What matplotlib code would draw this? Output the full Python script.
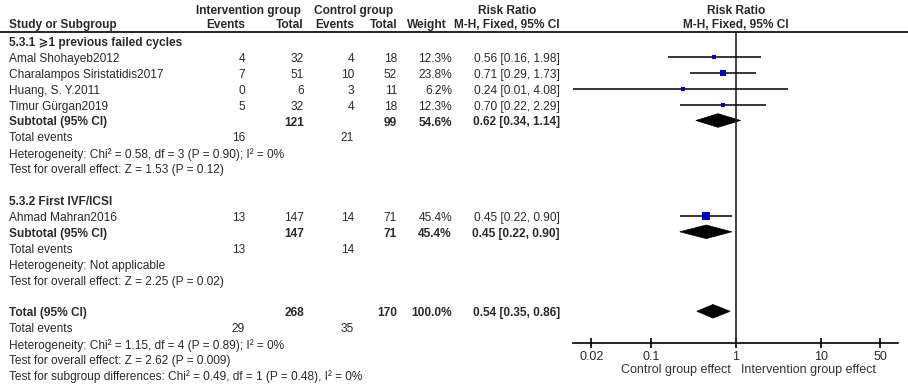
import matplotlib
matplotlib.use("Agg")
import matplotlib.pyplot as plt
from matplotlib.patches import Polygon
import numpy as np

# ---------------- data ----------------
sub1_title = "5.3.1 \u2a7e1 previous failed cycles"
sub2_title = "5.3.2 First IVF/ICSI"

studies1 = ["Amal Shohayeb2012", "Charalampos Siristatidis2017", "Huang, S. Y.2011", "Timur G\u00fcrgan2019"]
int_events1 = [4, 7, 0, 5]
int_total1 = [32, 51, 6, 32]
ctl_events1 = [4, 10, 3, 4]
ctl_total1 = [18, 52, 11, 18]
weight1 = [12.3, 23.8, 6.2, 12.3]
rr1 = [0.56, 0.71, 0.24, 0.70]
lo1 = [0.16, 0.29, 0.01, 0.22]
hi1 = [1.98, 1.73, 4.08, 2.29]
sub1 = dict(int_total=121, ctl_total=99, weight=54.6, rr=0.62, lo=0.34, hi=1.14,
            int_events=16, ctl_events=21)
sub1_het = "Heterogeneity: Chi\u00b2 = 0.58, df = 3 (P = 0.90); I\u00b2 = 0%"
sub1_test = "Test for overall effect: Z = 1.53 (P = 0.12)"

studies2 = ["Ahmad Mahran2016"]
int_events2 = [13]
int_total2 = [147]
ctl_events2 = [14]
ctl_total2 = [71]
weight2 = [45.4]
rr2 = [0.45]
lo2 = [0.22]
hi2 = [0.90]
sub2 = dict(int_total=147, ctl_total=71, weight=45.4, rr=0.45, lo=0.22, hi=0.90,
            int_events=13, ctl_events=14)
sub2_het = "Heterogeneity: Not applicable"
sub2_test = "Test for overall effect: Z = 2.25 (P = 0.02)"

total = dict(int_total=268, ctl_total=170, weight=100.0, rr=0.54, lo=0.35, hi=0.86,
             int_events=29, ctl_events=35)
total_het = "Heterogeneity: Chi\u00b2 = 1.15, df = 4 (P = 0.89); I\u00b2 = 0%"
total_test = "Test for overall effect: Z = 2.62 (P = 0.009)"
subgroup_test = "Test for subgroup differences: Chi\u00b2 = 0.49, df = 1 (P = 0.48), I\u00b2 = 0%"

xticks = [0.02, 0.1, 1, 10, 50]
xtick_labels = ["0.02", "0.1", "1", "10", "50"]
left_label = "Control group effect"
right_label = "Intervention group effect"

# ---------------- layout ----------------
W, H = 908, 384
FONT = ["Liberation Sans", "DejaVu Sans"]
FS = 8.6
TXT = "#2a2a2a"
BLUE = "#0000c8"

row0 = 43.0
dy = 15.9
def ry(k):
    return row0 + dy * k

fig = plt.figure(figsize=(W / 100, H / 100), dpi=100)
tx = fig.add_axes([0, 0, 1, 1])
tx.set_xlim(0, W)
tx.set_ylim(H, 0)
tx.axis("off")

def t(x, y, s, ha="left", bold=False):
    tx.text(x, y, s, ha=ha, va="center", fontsize=FS, family=FONT,
            fontweight="bold" if bold else "normal", color=TXT)

# columns (right edges)
X_LABEL = 9
X_IE, X_IT, X_CE, X_CT, X_W, X_RR = 245, 304, 354, 397, 452, 560

# header
hy1, hy2 = 11, 25
t(248, hy1, "Intervention group", ha="center", bold=True)
t(354, hy1, "Control group", ha="center", bold=True)
t(507, hy1, "Risk Ratio", ha="center", bold=True)
t(X_LABEL, hy2, "Study or Subgroup", bold=True)
t(X_IE, hy2, "Events", ha="right", bold=True)
t(X_IT, hy2, "Total", ha="right", bold=True)
t(X_CE, hy2, "Events", ha="right", bold=True)
t(X_CT, hy2, "Total", ha="right", bold=True)
t(447, hy2, "Weight", ha="right", bold=True)
t(X_RR, hy2, "M-H, Fixed, 95% CI", ha="right", bold=True)
HEADER_LINE = 32
tx.axhline(HEADER_LINE, color="black", lw=1.2)

# forest axes
X1_PIX = 735.7
DEC = 85.0
FX0, FX1 = 573, 898
fax = fig.add_axes([FX0 / W, 0, (FX1 - FX0) / W, 1])
fax.set_xscale("log")
fax.set_xlim(10 ** ((FX0 - X1_PIX) / DEC), 10 ** ((FX1 - X1_PIX) / DEC))
fax.set_ylim(H, 0)
fax.patch.set_visible(False)
for s in ["top", "left", "right"]:
    fax.spines[s].set_visible(False)
AXIS_Y = 343
fax.spines["bottom"].set_position(("data", AXIS_Y))
fax.spines["bottom"].set_linewidth(1.2)
fax.set_yticks([])
fax.set_xticks(xticks)
fax.set_xticklabels(xtick_labels, fontsize=FS + 0.4, family=FONT, color=TXT)
fax.minorticks_off()
fax.tick_params(axis="x", direction="inout", length=7, width=1.2, pad=2)
fax.vlines(1, HEADER_LINE, AXIS_Y, color="#222222", lw=1.2)

tx.text(731, 370, left_label, ha="right", va="center", fontsize=FS + 0.4, family=FONT, color="#333333")
tx.text(741, 370, right_label, ha="left", va="center", fontsize=FS + 0.4, family=FONT, color="#333333")
t(X1_PIX, hy1, "Risk Ratio", ha="center", bold=True)
t(X1_PIX, hy2, "M-H, Fixed, 95% CI", ha="center", bold=True)

MK_OFF = -2

def study_row(k, name, ie, it, ce, ct, w, rr, lo, hi):
    y = ry(k)
    t(X_LABEL, y, name)
    t(X_IE, y, str(ie), ha="right")
    t(X_IT, y, str(it), ha="right")
    t(X_CE, y, str(ce), ha="right")
    t(X_CT, y, str(ct), ha="right")
    t(X_W, y, f"{w:.1f}%", ha="right")
    t(X_RR, y, f"{rr:.2f} [{lo:.2f}, {hi:.2f}]", ha="right")
    fax.plot([lo, hi], [y + MK_OFF, y + MK_OFF], color="black", lw=1.1, solid_capstyle="butt")
    side_px = 1.32 * np.sqrt(w)
    fax.plot([rr], [y + MK_OFF], marker="s", ms=side_px * 0.72, color=BLUE, mec=BLUE, mew=0)

def diamond(y, rr, lo, hi, half=6.8):
    poly = Polygon([[lo, y], [rr, y - half], [hi, y], [rr, y + half]], closed=True,
                   facecolor="black", edgecolor="black", lw=0.5)
    fax.add_patch(poly)

def summary_rows(k, label, d, with_label_total=True):
    y = ry(k)
    t(X_LABEL, y, label, bold=True)
    t(X_IT, y, str(d["int_total"]), ha="right", bold=True)
    t(X_CT, y, str(d["ctl_total"]), ha="right", bold=True)
    t(X_W, y, f"{d['weight']:.1f}%", ha="right", bold=True)
    t(X_RR, y, f"{d['rr']:.2f} [{d['lo']:.2f}, {d['hi']:.2f}]", ha="right", bold=True)
    diamond(y + MK_OFF, d["rr"], d["lo"], d["hi"])
    y2 = ry(k + 1)
    t(X_LABEL, y2, "Total events")
    t(X_IE, y2, str(d["int_events"]), ha="right")
    t(X_CE, y2, str(d["ctl_events"]), ha="right")

# subgroup 1
t(X_LABEL, ry(0), sub1_title, bold=True)
for i in range(len(studies1)):
    study_row(1 + i, studies1[i], int_events1[i], int_total1[i], ctl_events1[i], ctl_total1[i],
              weight1[i], rr1[i], lo1[i], hi1[i])
summary_rows(5, "Subtotal (95% CI)", sub1)
t(X_LABEL, ry(7), sub1_het)
t(X_LABEL, ry(8), sub1_test)

# subgroup 2
t(X_LABEL, ry(10), sub2_title, bold=True)
for i in range(len(studies2)):
    study_row(11 + i, studies2[i], int_events2[i], int_total2[i], ctl_events2[i], ctl_total2[i],
              weight2[i], rr2[i], lo2[i], hi2[i])
summary_rows(12, "Subtotal (95% CI)", sub2)
t(X_LABEL, ry(14), sub2_het)
t(X_LABEL, ry(15), sub2_test)

# total
summary_rows(17, "Total (95% CI)", total)
t(X_LABEL, ry(19), total_het)
t(X_LABEL, ry(20), total_test)
t(X_LABEL, ry(21), subgroup_test)

fig.savefig("out.png", dpi=100)
